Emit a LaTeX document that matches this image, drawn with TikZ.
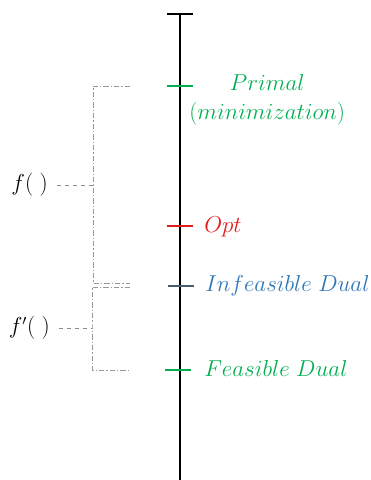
\documentclass[tikz,border=0pt]{standalone}
\usepackage{amsmath}
\usepackage{xcolor}
\usepackage{tikz}
\usetikzlibrary{positioning,calc}
\definecolor{prgreen}{HTML}{00B050}
\definecolor{optred}{HTML}{E01B1B}
\definecolor{dualblue}{HTML}{2E75B6}
\definecolor{tickslate}{HTML}{4A5A70}

\begin{document}
\begin{tikzpicture}[
      x=0.75pt, y=-0.75pt,
      font=\fontsize{16}{20}\selectfont,
      axis/.style={line width=1.1pt},
      tick/.style={line width=1pt},
      lbl/.style={anchor=west, inner sep=0pt, align=center},
      brace/.style={black!40, dash pattern=on 4pt off 1.5pt on 1pt off 1.5pt, line width=0.6pt},
      lead/.style={black!45, dashed, line width=0.6pt, shorten <=7pt},
    ]
    \useasboundingbox (0,0) rectangle (371,480);

    % --- the scale -----------------------------------------------------------
    \coordinate (top) at (180,14);
    \coordinate (bottom) at (180,480);
    \draw[axis] (top) -- (bottom);
    \draw[axis] ($(top)+(-13,0)$) -- ($(top)+(13,0)$);

    \coordinate (primal) at (180,86);
    \coordinate (opt) at (180,226);
    \coordinate (infdual) at (181,286);
    \coordinate (feasdual) at (178,370);
    \draw[tick, prgreen] ($(primal)+(-13,0)$) -- ($(primal)+(13,0)$);
    \draw[tick, optred] ($(opt)+(-13,0)$) -- ($(opt)+(13,0)$);
    \draw[tick, tickslate] ($(infdual)+(-13,0)$) -- ($(infdual)+(13,0)$);
    \draw[tick, prgreen] ($(feasdual)+(-13,0)$) -- ($(feasdual)+(13,0)$);

    % --- labels on the right -------------------------------------------------
    \node[lbl, prgreen] (primallbl) at (189,100) {$Primal$\\[2pt]$(minimization)$};
    \node[lbl, optred] (optlbl) at (204,227) {$Opt$};
    \node[lbl, dualblue] (infdual lbl) at (205,286) {$Infeasible\ Dual$};
    \node[lbl, prgreen] (feasdual lbl) at (204,368) {$Feasible\ Dual$};

    % --- brackets on the left ------------------------------------------------
    \coordinate (fjoin) at (93,185);
    \coordinate (ftop) at (130,86);
    \coordinate (fbot) at (130,283);
    \node[anchor=east, inner sep=0pt] (fnode) at (48,185) {$f(\;)$};
    \draw[brace] (ftop) -| (fjoin) |- (fbot);
    \draw[lead] (fnode.east) -- (fjoin);

    \coordinate (fpjoin) at (92,328);
    \coordinate (fptop) at (130,287);
    \coordinate (fpbot) at (130,370);
    \node[anchor=east, inner sep=0pt] (fpnode) at (50,328) {$f'(\;)$};
    \draw[brace] (fptop) -| (fpjoin) |- (fpbot);
    \draw[lead] (fpnode.east) -- (fpjoin);
  \end{tikzpicture}
\end{document}
